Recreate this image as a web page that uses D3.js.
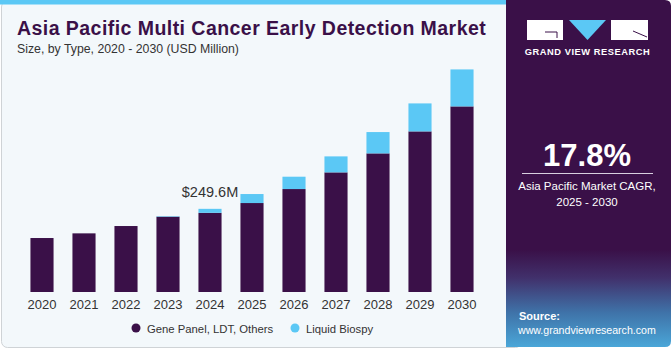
<!DOCTYPE html>
<html>
<head>
<meta charset="utf-8">
<script src="https://cdn.jsdelivr.net/npm/d3@7"></script>
<style>
  body { margin: 0; background: #fff; }
  text { font-family: "Liberation Sans", Arial, sans-serif; }
</style>
</head>
<body>
<script>
var years = ["2020","2021","2022","2023","2024","2025","2026","2027","2028","2029","2030"];
var genePanel = [162, 176, 198, 226, 237.6, 267, 309, 359, 416, 482, 557];
var liquidBiopsy = [0, 0, 0, 1.5, 12, 27, 37, 48, 64, 84, 111];
var seriesNames = ["Gene Panel, LDT, Others", "Liquid Biospy"];
var seriesColors = ["#3a1048", "#5bc8f5"];

var W = 671, H = 350;
var svg = d3.select("body").append("svg").attr("width", W).attr("height", H);

// card background
svg.append("rect").attr("x", 1.5).attr("y", 1).attr("width", 520).attr("height", 346.5)
  .attr("rx", 6).attr("fill", "#f3f8fb").attr("stroke", "#cfd3d6");
svg.append("rect").attr("x", 0).attr("y", 0).attr("width", 506).attr("height", 4.5).attr("fill", "#5bc8f5");

// right panel
var grad = svg.append("defs").append("linearGradient").attr("id", "pg")
  .attr("x1", 0).attr("y1", 0).attr("x2", 0).attr("y2", 1);
grad.append("stop").attr("offset", "0%").attr("stop-color", "#3a1048");
grad.append("stop").attr("offset", "72%").attr("stop-color", "#3a1048");
grad.append("stop").attr("offset", "80%").attr("stop-color", "#41306b");
grad.append("stop").attr("offset", "90%").attr("stop-color", "#3f72a8");
grad.append("stop").attr("offset", "100%").attr("stop-color", "#4aa6d8");
svg.append("path")
  .attr("d", "M506,0 H665 Q671,0 671,6 V341 Q671,347 665,347 H506 Z")
  .attr("fill", "url(#pg)");

// logo
var lg = svg.append("g");
lg.append("rect").attr("x", 527).attr("y", 20).attr("width", 36).attr("height", 20).attr("fill", "#fff");
lg.append("path").attr("d", "M545,32 H557 V38").attr("fill", "none").attr("stroke", "#3a1048").attr("stroke-width", 1);
lg.append("path").attr("d", "M569,20 H606 L587.5,40 Z").attr("fill", "#5bc8f5");
lg.append("rect").attr("x", 611).attr("y", 20).attr("width", 37).attr("height", 20).attr("fill", "#fff");
lg.append("path").attr("d", "M633,31 L647,37").attr("fill", "none").attr("stroke", "#3a1048").attr("stroke-width", 1);
svg.append("text").attr("x", 587.5).attr("y", 55).attr("text-anchor", "middle")
  .attr("fill", "#fff").attr("font-size", 9.3).attr("font-weight", "bold").attr("letter-spacing", 0.55)
  .text("GRAND VIEW RESEARCH");

svg.append("text").attr("x", 587).attr("y", 166).attr("text-anchor", "middle")
  .attr("fill", "#fff").attr("font-size", 31).attr("font-weight", "bold").text("17.8%");
svg.append("line").attr("x1", 522).attr("x2", 653).attr("y1", 173.5).attr("y2", 173.5)
  .attr("stroke", "#d8cfe0").attr("stroke-width", 1);
svg.append("text").attr("x", 587).attr("y", 190).attr("text-anchor", "middle")
  .attr("fill", "#fff").attr("font-size", 11.5).text("Asia Pacific Market CAGR,");
svg.append("text").attr("x", 587).attr("y", 206).attr("text-anchor", "middle")
  .attr("fill", "#fff").attr("font-size", 11.5).text("2025 - 2030");
svg.append("text").attr("x", 519).attr("y", 320).attr("fill", "#fff")
  .attr("font-size", 11).attr("font-weight", "bold").text("Source:");
svg.append("text").attr("x", 518).attr("y", 334).attr("fill", "#fff")
  .attr("font-size", 10.6).text("www.grandviewresearch.com");

// titles
svg.append("text").attr("x", 17).attr("y", 35).attr("fill", "#3a1048")
  .attr("font-size", 19.5).attr("font-weight", "bold").attr("letter-spacing", 0.45)
  .text("Asia Pacific Multi Cancer Early Detection Market");
svg.append("text").attr("x", 17).attr("y", 53).attr("fill", "#333")
  .attr("font-size", 12.3).text("Size, by Type, 2020 - 2030 (USD Million)");

// chart
var baseY = 292;
var x = d3.scaleBand().domain(years).range([21, 483]).paddingInner(0.45).paddingOuter(0.225);
var y = d3.scaleLinear().domain([0, 250]).range([baseY, baseY - 83.3]);

var data = years.map(function(yr, i) {
  return {year: yr, g: genePanel[i], l: liquidBiopsy[i]};
});

svg.selectAll(".bar-g").data(data).enter().append("rect")
  .attr("class", "bar-g")
  .attr("x", function(d) { return x(d.year); })
  .attr("width", x.bandwidth())
  .attr("y", function(d) { return y(d.g); })
  .attr("height", function(d) { return baseY - y(d.g); })
  .attr("fill", seriesColors[0]);

svg.selectAll(".bar-l").data(data).enter().append("rect")
  .attr("class", "bar-l")
  .attr("x", function(d) { return x(d.year); })
  .attr("width", x.bandwidth())
  .attr("y", function(d) { return y(d.g + d.l); })
  .attr("height", function(d) { return y(d.g) - y(d.g + d.l); })
  .attr("fill", seriesColors[1]);

var xAxis = d3.axisBottom(x).tickSize(0).tickPadding(8);
var gx = svg.append("g").attr("transform", "translate(0," + baseY + ")").call(xAxis);
gx.select(".domain").remove();
gx.selectAll("text").attr("font-size", 13).attr("fill", "#333")
  .attr("font-family", "Liberation Sans, Arial, sans-serif");

// value label
svg.append("text").attr("x", x("2024") + x.bandwidth() / 2).attr("y", 197)
  .attr("text-anchor", "middle").attr("fill", "#333").attr("font-size", 14.5)
  .text("$" + (genePanel[4] + liquidBiopsy[4]).toFixed(1) + "M");

// legend
var legX = [136, 295];
seriesNames.forEach(function(n, i) {
  svg.append("circle").attr("cx", legX[i]).attr("cy", 328).attr("r", 4.5).attr("fill", seriesColors[i]);
  svg.append("text").attr("x", legX[i] + 11).attr("y", 332.5).attr("fill", "#333")
    .attr("font-size", 11.3).text(n);
});
</script>
</body>
</html>
